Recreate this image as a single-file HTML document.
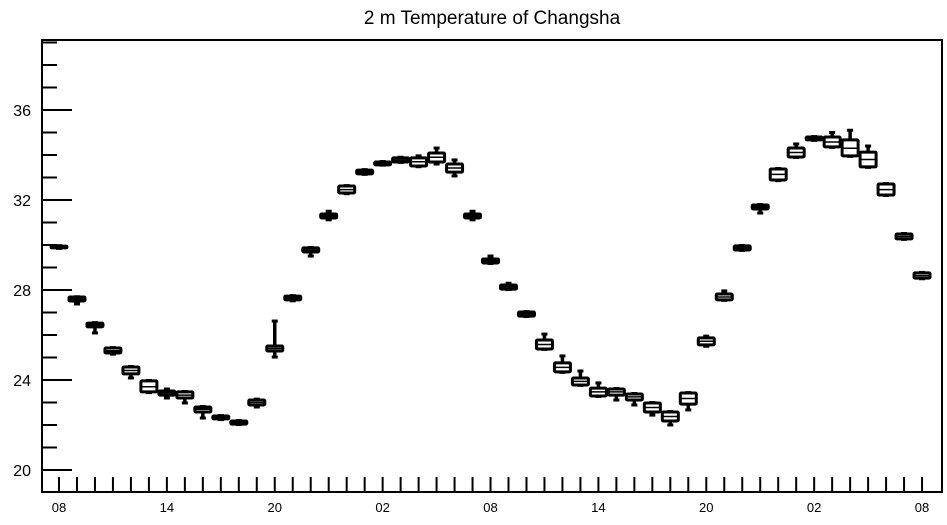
<!DOCTYPE html>
<html><head><meta charset="utf-8"><style>
body{margin:0;background:#fff;width:947px;height:520px;overflow:hidden}
svg text{font-family:"Liberation Sans",sans-serif;fill:#000}
</style></head><body>
<svg id="chart" width="947" height="520" viewBox="0 0 947 520">
<text x="492" y="24" font-size="19" text-anchor="middle">2 m Temperature of Changsha</text>
<g id="axes"></g><g id="boxes"></g>
</svg>
<script>
const hours=["08","09","10","11","12","13","14","15","16","17","18","19","20","21","22","23","00","01","02","03","04","05","06","07","08","09","10","11","12","13","14","15","16","17","18","19","20","21","22","23","00","01","02","03","04","05","06","07","08"];
const q1=[29.87,27.51,26.36,25.2,24.27,23.47,23.33,23.2,22.58,22.27,22.04,22.89,25.29,27.56,29.69,31.2,32.31,33.16,33.56,33.69,33.51,33.69,33.24,31.2,29.2,28.04,26.84,25.38,24.36,23.78,23.29,23.33,23.11,22.58,22.18,22.93,25.56,27.56,29.78,31.6,32.89,33.91,34.67,34.36,33.96,33.47,32.22,30.27,28.53];
const med=[29.91,27.6,26.45,25.3,24.42,23.7,23.42,23.33,22.7,22.33,22.1,23.0,25.4,27.65,29.78,31.29,32.46,33.25,33.62,33.78,33.7,33.9,33.42,31.29,29.29,28.13,26.93,25.58,24.56,23.94,23.47,23.47,23.25,22.78,22.38,23.18,25.72,27.69,29.87,31.69,33.14,34.11,34.74,34.58,34.3,33.8,32.46,30.38,28.64];
const q3=[29.95,27.69,26.53,25.42,24.58,23.96,23.51,23.47,22.8,22.4,22.18,23.11,25.51,27.73,29.87,31.38,32.62,33.33,33.69,33.87,33.87,34.09,33.6,31.38,29.38,28.22,27.02,25.78,24.76,24.09,23.64,23.6,23.38,22.98,22.58,23.42,25.87,27.82,29.96,31.78,33.38,34.31,34.8,34.8,34.67,34.13,32.71,30.49,28.76];
const lo=[29.85,27.38,26.09,25.15,24.09,23.44,23.2,22.98,22.31,22.24,22.02,22.8,25.02,27.52,29.51,31.12,32.28,33.14,33.55,33.67,33.48,33.6,33.07,31.12,29.18,28.02,26.82,25.36,24.34,23.76,23.27,23.11,22.89,22.44,22.0,22.67,25.5,27.54,29.76,31.42,32.86,33.89,34.65,34.34,33.94,33.45,32.2,30.25,28.5];
const hi=[29.97,27.7,26.55,25.44,24.6,23.98,23.6,23.49,22.82,22.42,22.2,23.15,26.62,27.75,29.89,31.5,32.64,33.35,33.71,33.9,33.96,34.31,33.78,31.5,29.51,28.3,27.04,26.04,25.07,24.4,23.87,23.62,23.4,23.0,22.6,23.44,25.95,27.96,29.98,31.8,33.4,34.49,34.82,35.0,35.1,34.4,32.73,30.51,28.78];
const yTicks=[20,24,28,32,36];
const NS="http://www.w3.org/2000/svg";
const L=42,R=942,T=40,B=492;
const y=v=>470-(v-20)*22.5;
const x=i=>59+i*17.98;
function mk(tag,attrs,parent){const e=document.createElementNS(NS,tag);for(const k in attrs)e.setAttribute(k,attrs[k]);parent.appendChild(e);return e;}
const ax=document.getElementById('axes'),bx=document.getElementById('boxes');
const frame=mk('rect',{x:L,y:T,width:R-L,height:B-T,fill:'none',stroke:'#000','stroke-width':2},ax);


for(let v=20;v<=39;v++){
  const major=yTicks.includes(v);
  const t=mk('line',{x1:L,x2:L+(major?30:15),y1:y(v),y2:y(v),stroke:'#000','stroke-width':2},ax);
  
  
}
yTicks.forEach(v=>{const t=mk('text',{x:31,y:y(v)+6,'font-size':16,'text-anchor':'end'},ax);t.textContent=v;

});
hours.forEach((h,i)=>{
  const t=mk('line',{x1:x(i),x2:x(i),y1:B,y2:B-15,stroke:'#000','stroke-width':2},ax);
  
  
  if(i%6===0){const l=mk('text',{x:x(i),y:512,'font-size':13,'text-anchor':'middle'},ax);l.textContent=h;
  
  }
});
hours.forEach((h,i)=>{
  const g=mk('g',{},bx);
  
  
  const cx=x(i),w=8;
  mk('line',{x1:cx,x2:cx,y1:y(hi[i]),y2:y(lo[i]),stroke:'#000','stroke-width':3.5},g);
  mk('line',{x1:cx-3,x2:cx+3,y1:y(hi[i]),y2:y(hi[i]),stroke:'#000','stroke-width':3},g);
  mk('line',{x1:cx-3,x2:cx+3,y1:y(lo[i]),y2:y(lo[i]),stroke:'#000','stroke-width':3},g);
  const top=y(q3[i]),bot=y(q1[i]);
  mk('rect',{x:cx-w,y:top,width:2*w,height:Math.max(bot-top,1),fill:'#fff',stroke:'#000','stroke-width':3,rx:1},g);
  mk('line',{x1:cx-w,x2:cx+w,y1:y(med[i]),y2:y(med[i]),stroke:'#000','stroke-width':1.5},g);
});
</script>
</body></html>
